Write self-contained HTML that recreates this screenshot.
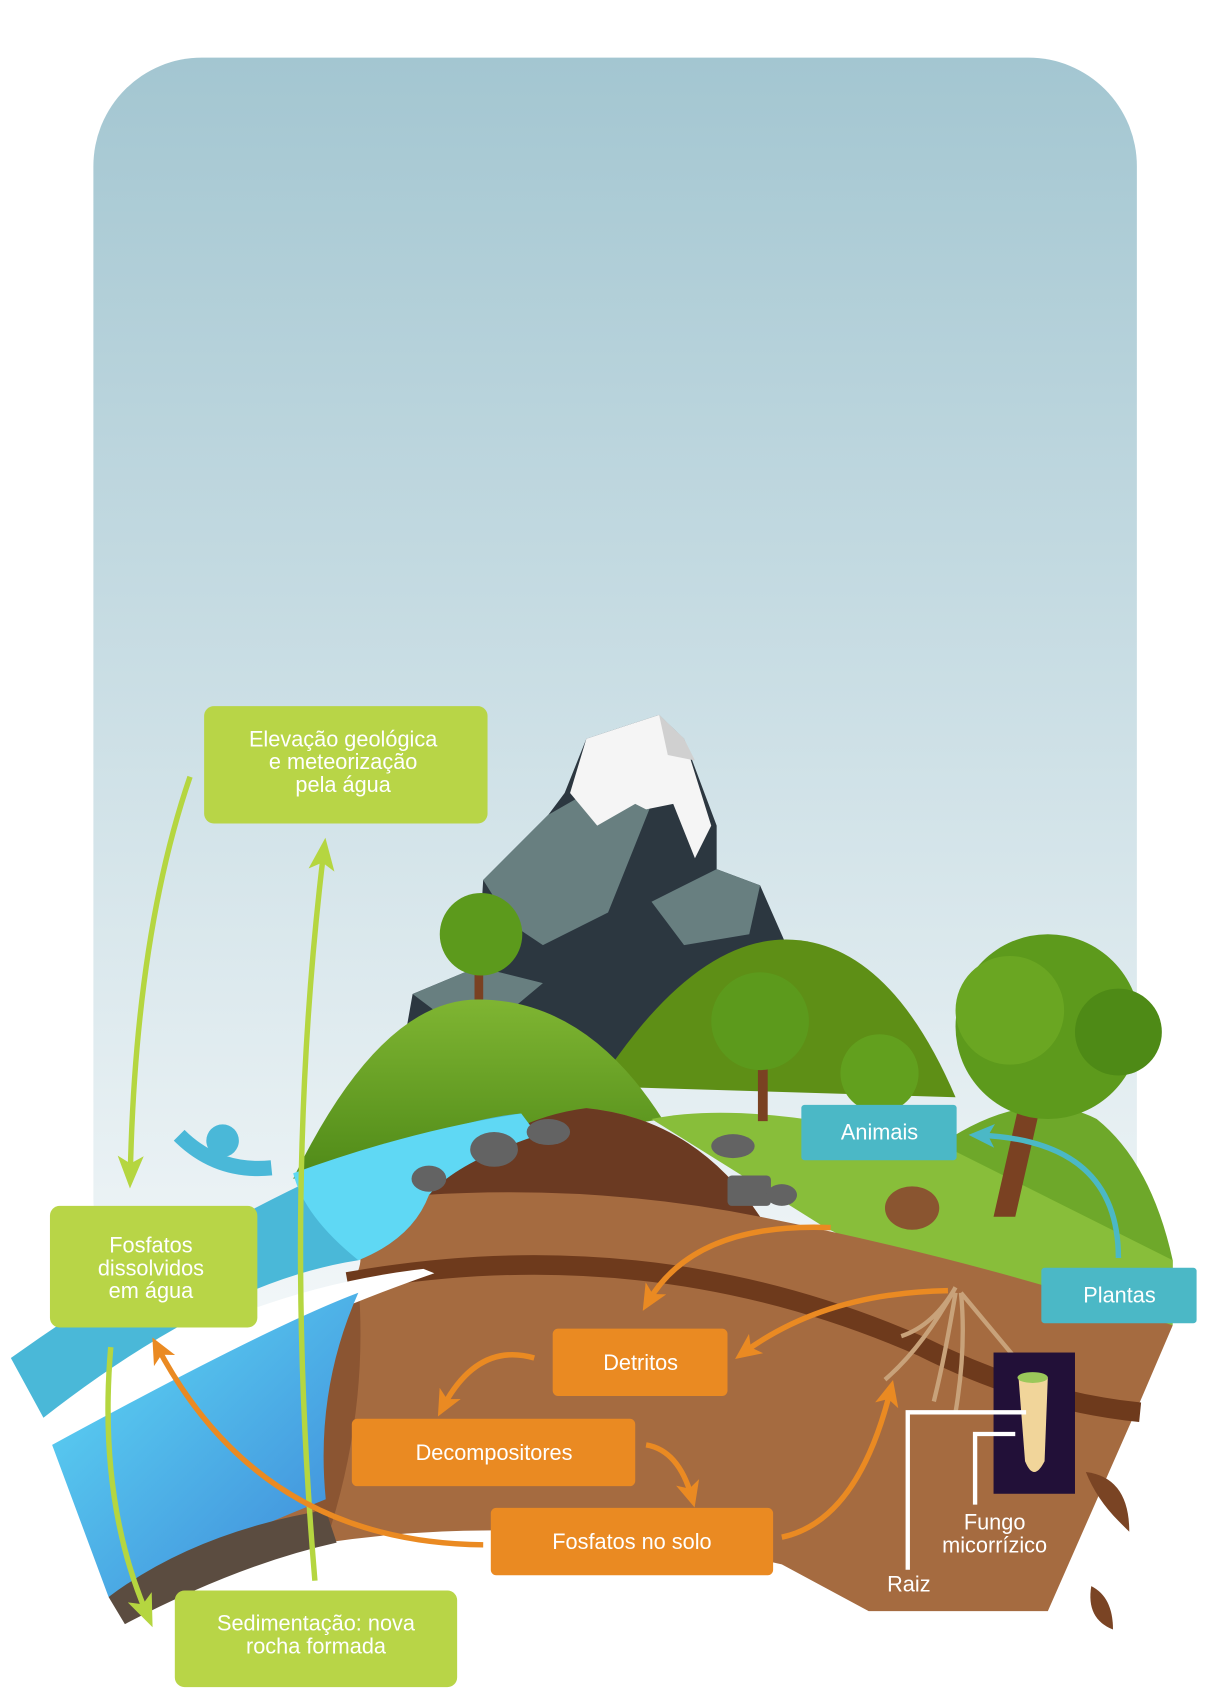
<!DOCTYPE html>
<html><head><meta charset="utf-8"><style>
html,body{margin:0;padding:0;background:#fff;}
svg{display:block;}
text{font-family:"Liberation Sans",sans-serif;fill:#fff;text-anchor:middle;}
</style></head><body>
<svg width="1227" height="1698" viewBox="0 0 1130 1563" preserveAspectRatio="none" xmlns="http://www.w3.org/2000/svg">
<defs>
<linearGradient id="sky" x1="0" y1="0" x2="0" y2="1"><stop offset="0" stop-color="#a3c6d1"/><stop offset="1" stop-color="#f1f6f8"/></linearGradient>
<linearGradient id="river" x1="0" y1="0" x2="1" y2="1"><stop offset="0" stop-color="#5fdcf6"/><stop offset="1" stop-color="#3d86d8"/></linearGradient>
<linearGradient id="hill" x1="0" y1="0" x2="0" y2="1"><stop offset="0" stop-color="#7fb532"/><stop offset="1" stop-color="#4f8a18"/></linearGradient>
<marker id="ao" markerWidth="26" markerHeight="26" refX="14" refY="13" orient="auto" markerUnits="userSpaceOnUse"><path d="M0,2 L24,13 L0,24 L6,13z" fill="#ea8a22"/></marker>
<marker id="ag" markerWidth="30" markerHeight="30" refX="16" refY="15" orient="auto" markerUnits="userSpaceOnUse"><path d="M0,3 L30,15 L0,27 L7,15z" fill="#b5d640"/></marker>
<marker id="at" markerWidth="26" markerHeight="26" refX="14" refY="13" orient="auto" markerUnits="userSpaceOnUse"><path d="M0,2 L24,13 L0,24 L6,13z" fill="#4bb8c6"/></marker>
</defs>
<rect x="86" y="53" width="961" height="1150" rx="100" fill="url(#sky)"/>
<!-- mountain -->
<polygon points="372,960 380,915 440,890 445,810 505,750 520,730 540,680 607,658 630,680 660,760 660,800 700,815 722,865 650,900 560,990" fill="#2c3740"/>
<polygon points="445,810 505,750 540,730 600,740 560,840 500,870 470,850" fill="#687f80"/>
<polygon points="600,830 660,800 700,815 690,860 630,870" fill="#687f80"/>
<polygon points="380,915 440,890 500,905 470,930 400,930" fill="#687f80"/>
<polygon points="540,680 607,658 630,680 655,760 640,790 620,740 595,745 585,740 550,760 525,730" fill="#f5f5f5"/>
<polygon points="607,658 630,680 640,700 615,695" fill="#d0d0d0"/>
<!-- back hill -->
<path d="M550,1000 Q640,860 730,865 Q820,870 880,1010 Z" fill="#5e8f16"/>
<!-- left hill -->
<path d="M270,1085 Q350,920 440,920 Q540,920 610,1030 Z" fill="url(#hill)"/>
<!-- right hill -->
<path d="M820,1090 Q930,990 1010,1030 Q1060,1070 1080,1160 L1080,1200 L830,1140 Z" fill="#6ea82a"/>
<path d="M600,1030 Q700,1010 880,1060 Q980,1110 1080,1160 L1080,1220 Q900,1200 760,1130 Z" fill="#88be3a"/>
<!-- trees -->
<rect x="437" y="875" width="8" height="45" fill="#7a4122"/>
<circle cx="443" cy="860" r="38" fill="#5c9a1c"/>
<rect x="698" y="970" width="9" height="62" fill="#7a4122"/>
<circle cx="700" cy="940" r="45" fill="#5c9a1c"/>
<circle cx="810" cy="988" r="36" fill="#62a01e"/>
<polygon points="940,1010 960,1010 935,1120 915,1120" fill="#7a4122"/>
<circle cx="965" cy="945" r="85" fill="#5d9a1c"/>
<circle cx="930" cy="930" r="50" fill="#6aa622"/>
<circle cx="1030" cy="950" r="40" fill="#4e8a16"/>
<!-- soil block -->
<path d="M300,1210 Q340,1170 330,1150 Q400,1050 540,1020 Q640,1030 700,1120 Q900,1160 1080,1220 L1050,1290 L965,1483 L800,1483 L720,1440 Q500,1390 300,1420 Q220,1430 190,1440 Z" fill="#a56b40"/>
<path d="M390,1100 Q460,1030 540,1020 Q640,1030 700,1120 Q550,1090 390,1100 Z" fill="#6b3a22"/>
<path d="M320,1180 Q600,1130 850,1240 Q950,1290 1050,1300" stroke="#6e3a1c" stroke-width="18" fill="none"/>
<path d="M300,1420 Q250,1300 310,1200 L330,1180 Q340,1300 300,1420 Z" fill="#8b5532"/>
<!-- river -->
<path d="M10,1250 Q150,1150 300,1080 Q420,1030 480,1025 L495,1045 Q420,1070 395,1100 Q380,1140 330,1160 Q200,1180 40,1305 Z" fill="#4ab8d8"/>
<path d="M270,1080 Q380,1040 480,1025 L495,1045 Q420,1070 395,1100 Q380,1140 330,1160 Q280,1120 270,1080 Z" fill="#5fd8f4"/>
<path d="M40,1310 Q200,1190 390,1168 L400,1172 Q260,1220 48,1330 Z" fill="#fff"/>
<path d="M48,1330 Q250,1220 330,1190 Q290,1280 300,1380 Q200,1420 100,1470 Z" fill="url(#river)"/>
<path d="M100,1470 Q180,1410 300,1390 L310,1420 Q220,1440 115,1495 Z" fill="#5b4c40"/>
<path d="M165,1045 Q200,1080 250,1075" stroke="#4ab8d8" stroke-width="14" fill="none"/>
<circle cx="205" cy="1050" r="15" fill="#4ab8d8"/>
<!-- rocks -->
<ellipse cx="455" cy="1058" rx="22" ry="16" fill="#636363"/>
<ellipse cx="505" cy="1042" rx="20" ry="12" fill="#636363"/>
<ellipse cx="395" cy="1085" rx="16" ry="12" fill="#636363"/>
<ellipse cx="675" cy="1055" rx="20" ry="11" fill="#636363"/>
<rect x="670" y="1082" width="40" height="28" rx="4" fill="#636363"/>
<ellipse cx="720" cy="1100" rx="14" ry="10" fill="#636363"/>
<ellipse cx="840" cy="1112" rx="25" ry="20" fill="#8a5530"/>
<!-- roots -->
<path d="M880,1185 Q860,1220 830,1230 M880,1185 Q850,1240 815,1270 M880,1190 Q870,1250 860,1290 M885,1190 Q890,1240 880,1300 M885,1190 Q910,1220 935,1250" stroke="#c8a27a" stroke-width="4" fill="none"/>
<path d="M1000,1355 Q1040,1360 1040,1410 L1030,1400 Q1010,1380 1000,1355 Z" fill="#7a4424"/>
<path d="M1005,1460 Q1025,1470 1025,1500 Q1000,1490 1005,1460 Z" fill="#7a4424"/>
<!-- root inset -->
<rect x="915" y="1245" width="75" height="130" fill="#221038"/>
<path d="M938,1268 L965,1268 L962,1345 Q952,1365 944,1345 Z" fill="#f1d59a"/>
<ellipse cx="951" cy="1268" rx="14" ry="5" fill="#9bc85a"/>
<!-- white pointer lines -->
<polyline points="836,1445 836,1300 945,1300" stroke="#fff" stroke-width="4" fill="none"/>
<polyline points="898,1385 898,1320 935,1320" stroke="#fff" stroke-width="4" fill="none"/>
<!-- green arrows -->
<path d="M175,715 Q125,860 120,1080" stroke="#b5d640" stroke-width="5" fill="none" marker-end="url(#ag)"/>
<path d="M290,1455 Q260,1100 298,785" stroke="#b5d640" stroke-width="5" fill="none" marker-end="url(#ag)"/>
<path d="M102,1240 Q90,1380 135,1485" stroke="#b5d640" stroke-width="5" fill="none" marker-end="url(#ag)"/>
<!-- orange arrows -->
<path d="M765,1130 Q640,1125 597,1198" stroke="#ea8a22" stroke-width="5" fill="none" marker-end="url(#ao)"/>
<path d="M873,1188 Q760,1190 685,1245" stroke="#ea8a22" stroke-width="5" fill="none" marker-end="url(#ao)"/>
<path d="M492,1250 Q440,1235 408,1295" stroke="#ea8a22" stroke-width="5" fill="none" marker-end="url(#ao)"/>
<path d="M595,1330 Q625,1335 637,1378" stroke="#ea8a22" stroke-width="5" fill="none" marker-end="url(#ao)"/>
<path d="M720,1415 Q790,1400 820,1280" stroke="#ea8a22" stroke-width="5" fill="none" marker-end="url(#ao)"/>
<path d="M445,1422 Q240,1420 145,1240" stroke="#ea8a22" stroke-width="5" fill="none" marker-end="url(#ao)"/>
<path d="M1030,1158 Q1030,1050 902,1045" stroke="#4bb8c6" stroke-width="5" fill="none" marker-end="url(#at)"/>
<!-- boxes -->
<rect x="188" y="650" width="261" height="108" rx="9" fill="#b8d547"/>
<text font-size="20"><tspan x="316" y="687">Elevação geológica</tspan><tspan x="316" y="708">e meteorização</tspan><tspan x="316" y="729">pela água</tspan></text>
<rect x="46" y="1110" width="191" height="112" rx="9" fill="#b8d547"/>
<text font-size="20"><tspan x="139" y="1153">Fosfatos</tspan><tspan x="139" y="1174">dissolvidos</tspan><tspan x="139" y="1195">em água</tspan></text>
<rect x="161" y="1464" width="260" height="89" rx="9" fill="#b8d547"/>
<text font-size="20"><tspan x="291" y="1501">Sedimentação: nova</tspan><tspan x="291" y="1522">rocha formada</tspan></text>
<rect x="509" y="1223" width="161" height="62" rx="5" fill="#ea8a22"/>
<text x="590" y="1261" font-size="20">Detritos</text>
<rect x="324" y="1306" width="261" height="62" rx="5" fill="#ea8a22"/>
<text x="455" y="1344" font-size="20">Decompositores</text>
<rect x="452" y="1388" width="260" height="62" rx="5" fill="#ea8a22"/>
<text x="582" y="1426" font-size="20">Fosfatos no solo</text>
<rect x="738" y="1017" width="143" height="51" rx="3" fill="#4bb8c6"/>
<text x="810" y="1049" font-size="20">Animais</text>
<rect x="959" y="1167" width="143" height="51" rx="3" fill="#4bb8c6"/>
<text x="1031" y="1199" font-size="20">Plantas</text>
<text font-size="20"><tspan x="916" y="1408">Fungo</tspan><tspan x="916" y="1429">micorrízico</tspan></text>
<text x="837" y="1465" font-size="20">Raiz</text>
</svg>
</body></html>
